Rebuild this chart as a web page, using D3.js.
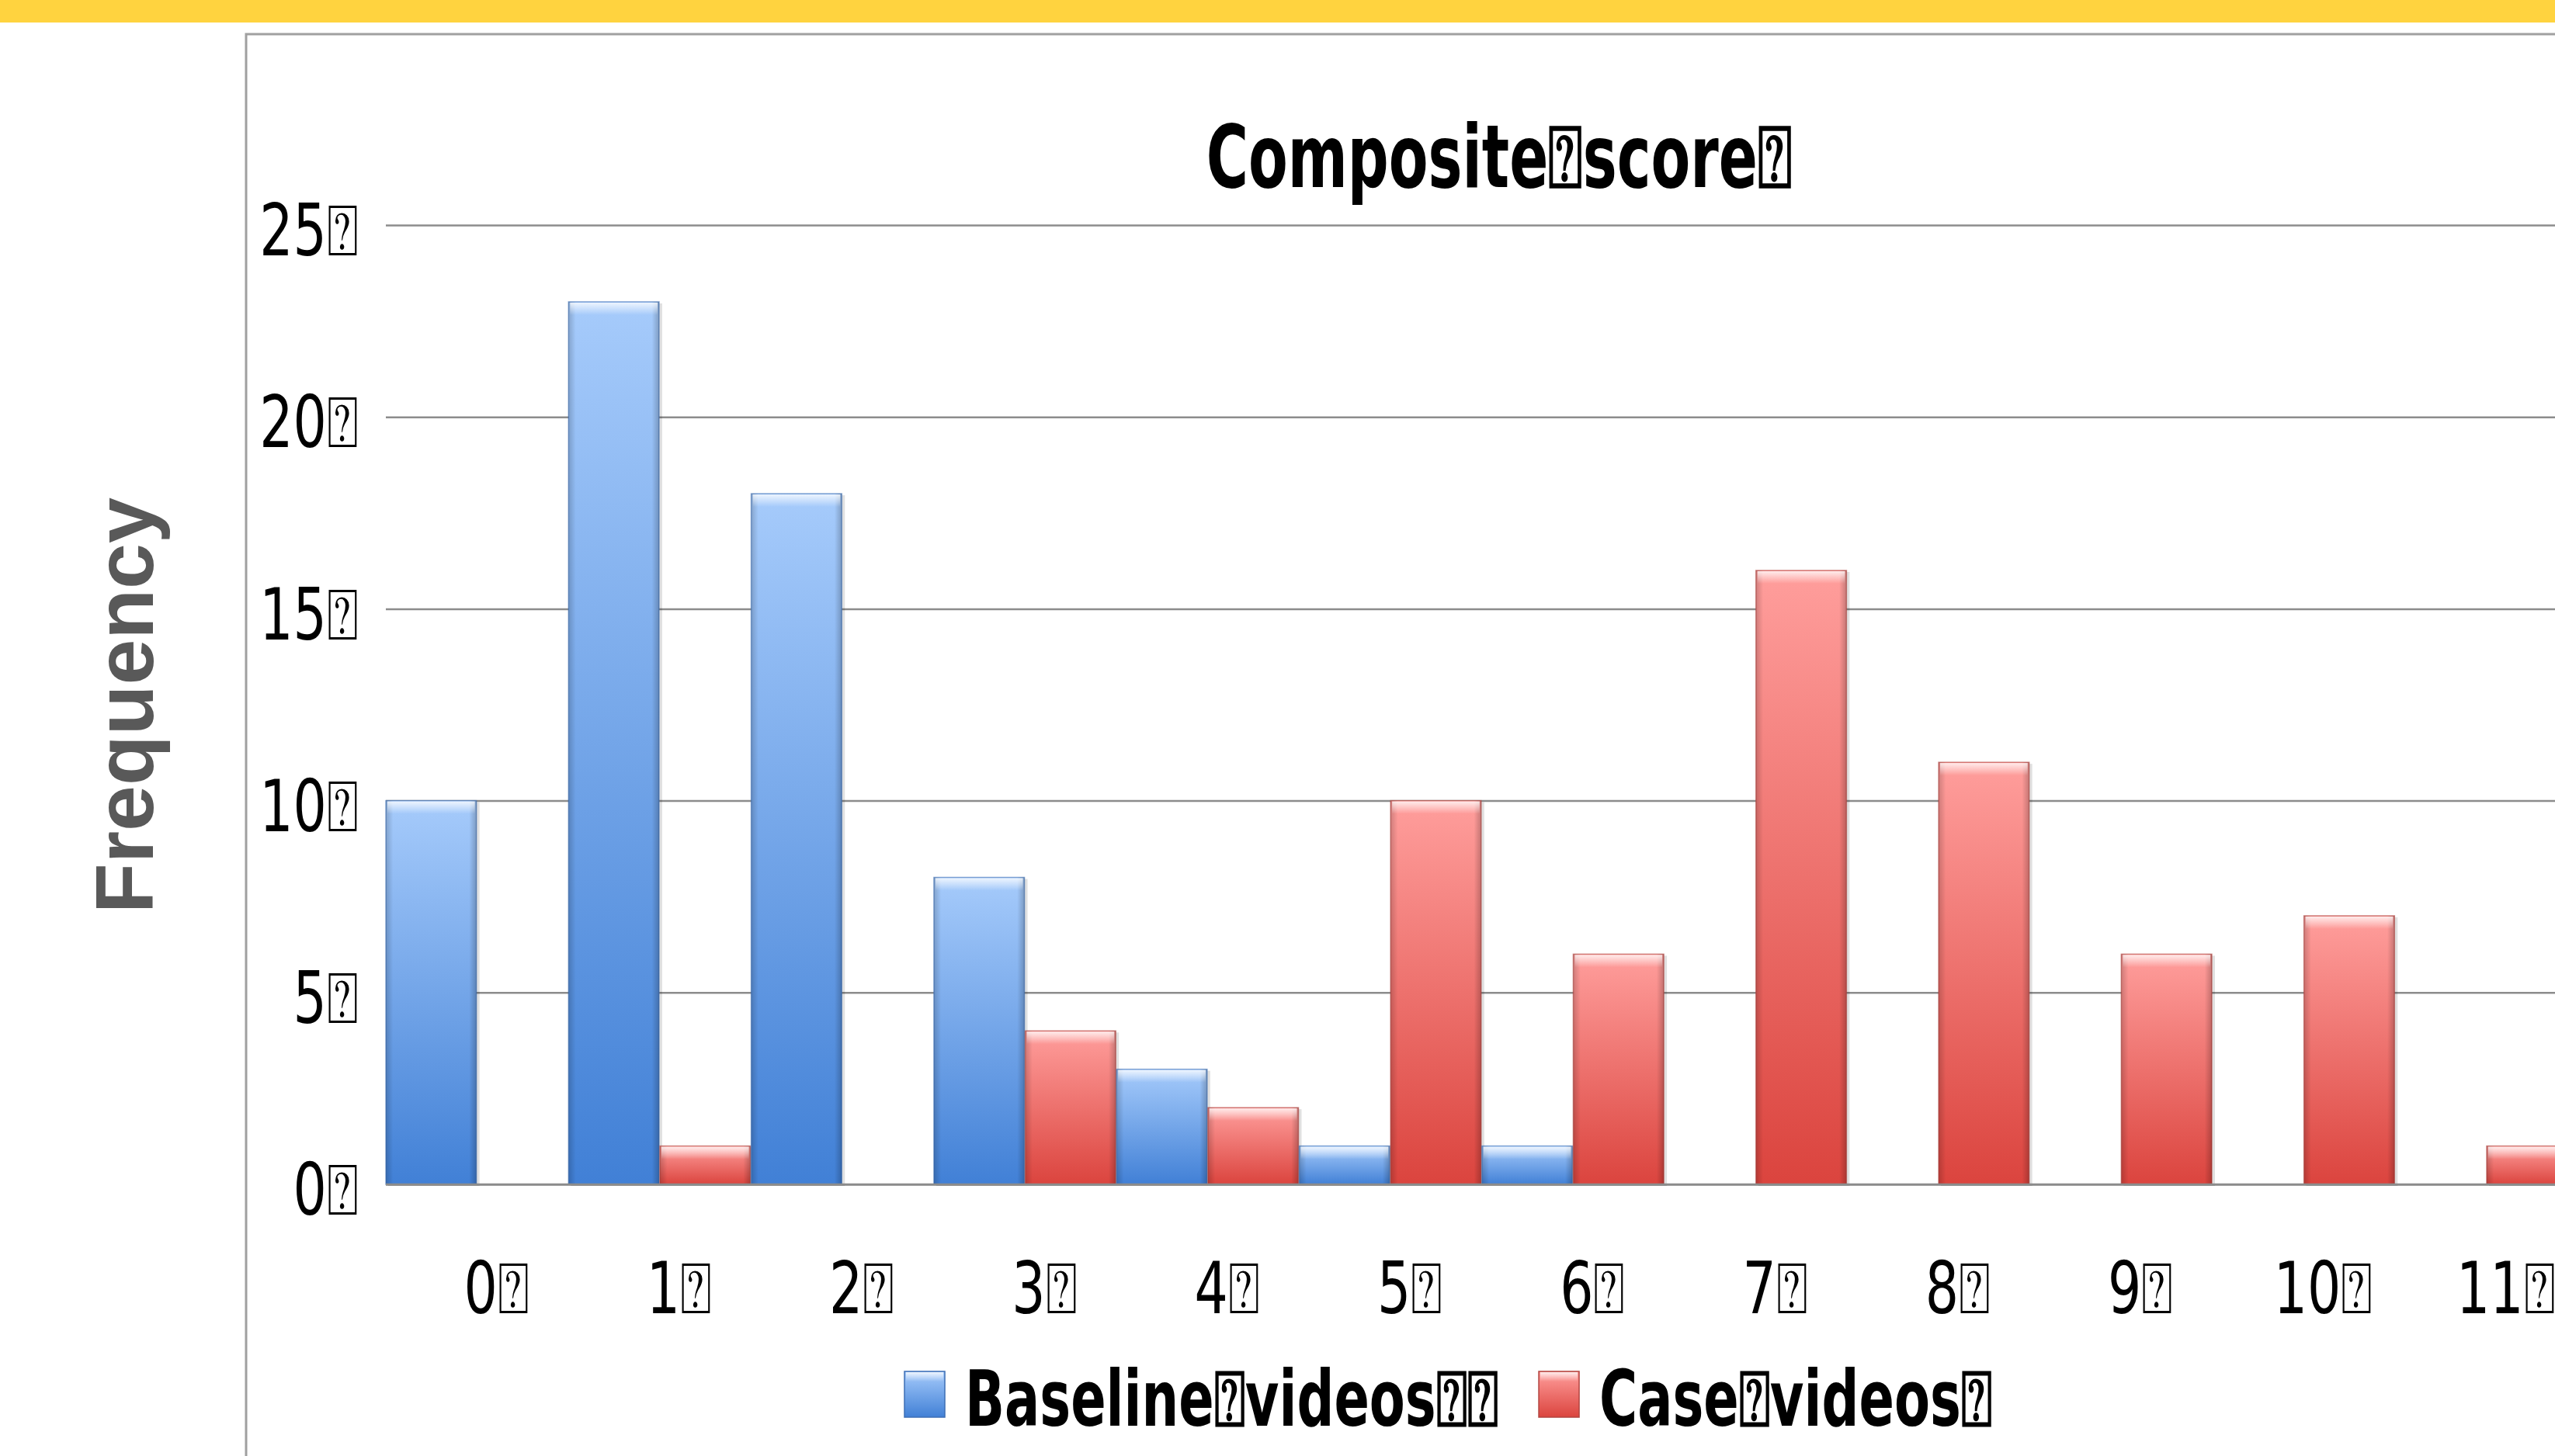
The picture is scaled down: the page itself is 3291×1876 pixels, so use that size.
<!DOCTYPE html>
<html>
<head>
<meta charset="utf-8">
<script src="https://cdn.jsdelivr.net/npm/d3@7"></script>
<style>
  html, body { margin: 0; padding: 0; background: #ffffff; }
  svg { display: block; }
</style>
</head>
<body>
<svg id="chart" width="3291" height="1876"></svg>
<script>
// ---- data ----
const categories = ["0", "1", "2", "3", "4", "5", "6", "7", "8", "9", "10", "11"];
const baselineVideos = [10, 23, 18, 8, 3, 1, 1, 0, 0, 0, 0, 0];
const caseVideos = [0, 1, 0, 4, 2, 10, 6, 16, 11, 6, 7, 1];
const seriesNames = ["Baseline videos", "Case videos"];
const yTicks = [0, 5, 10, 15, 20, 25];
const chartTitle = "Composite score";
const yAxisTitle = "Frequency";
const TOFU = "\u2370";

// ---- layout ----
const W = 3291, H = 1876;
const plot = { left: 497, top: 290, bottom: 1526, band: 235.3 };
plot.right = plot.left + plot.band * categories.length;

const svg = d3.select("#chart");
const defs = svg.append("defs");

function grad(id, top, bottom) {
  const g = defs.append("linearGradient").attr("id", id)
    .attr("x1", 0).attr("y1", 0).attr("x2", 0).attr("y2", 1);
  g.append("stop").attr("offset", "0%").attr("stop-color", top);
  g.append("stop").attr("offset", "100%").attr("stop-color", bottom);
}
grad("gBlue", "#A6CBFB", "#4180D6");
grad("gRed", "#FF9E9C", "#DB443E");
const hl = defs.append("linearGradient").attr("id", "gHl")
  .attr("x1", 0).attr("y1", 0).attr("x2", 0).attr("y2", 1);
hl.append("stop").attr("offset", "0%").attr("stop-color", "#ffffff").attr("stop-opacity", 0.8);
hl.append("stop").attr("offset", "100%").attr("stop-color", "#ffffff").attr("stop-opacity", 0);
const sgrad = defs.append("linearGradient").attr("id", "gSide")
  .attr("x1", 0).attr("y1", 0).attr("x2", 1).attr("y2", 0);
sgrad.append("stop").attr("offset", "0%").attr("stop-color", "#000").attr("stop-opacity", 0.18);
sgrad.append("stop").attr("offset", "8%").attr("stop-color", "#000").attr("stop-opacity", 0);
sgrad.append("stop").attr("offset", "92%").attr("stop-color", "#000").attr("stop-opacity", 0);
sgrad.append("stop").attr("offset", "100%").attr("stop-color", "#000").attr("stop-opacity", 0.22);

const seriesFill = ["url(#gBlue)", "url(#gRed)"];
const seriesStroke = ["#3E6FB5", "#B24540"];

// yellow top band
svg.append("rect").attr("x", 0).attr("y", 0).attr("width", W).attr("height", 29)
  .attr("fill", "#FFD33F");

// frame
svg.append("path")
  .attr("d", `M317,${H} L317,44 L${W},44`)
  .attr("fill", "none").attr("stroke", "#A0A0A0").attr("stroke-width", 3);

// ---- scales ----
const x0 = d3.scaleBand().domain(categories).range([plot.left, plot.right]).padding(0);
const x1 = d3.scaleBand().domain(seriesNames).range([0, x0.bandwidth()]).padding(0);
const y = d3.scaleLinear().domain([0, 25]).range([plot.bottom, plot.top]);

// ---- y axis with gridlines ----
const tickScale = 0.74;
const yAxis = svg.append("g")
  .attr("transform", `translate(${plot.left},0)`)
  .call(d3.axisLeft(y).tickValues(yTicks).tickSize(-(plot.right - plot.left))
    .tickPadding(0).tickFormat(d => d + TOFU));
yAxis.select(".domain").remove();
yAxis.selectAll(".tick line").attr("stroke", "#8C8C8C").attr("stroke-width", 2.5);
yAxis.selectAll(".tick text")
  .attr("font-family", "DejaVu Sans").attr("font-size", 92).attr("fill", "#000")
  .attr("text-anchor", "end")
  .attr("dy", "0.42em")
  .attr("x", -35 / tickScale)
  .attr("transform", `scale(${tickScale},1)`);

// ---- bars ----
const rows = categories.map((c, i) => ({ cat: c, values: [baselineVideos[i], caseVideos[i]] }));
const barGroups = svg.append("g").selectAll("g").data(rows).join("g")
  .attr("transform", d => `translate(${x0(d.cat)},0)`);
const bars = barGroups.selectAll("g.bar")
  .data(d => d.values.map((v, k) => ({ v, k, name: seriesNames[k] })).filter(b => b.v > 0))
  .join("g").attr("class", "bar");
bars.append("rect")
  .attr("x", d => x1(d.name) + 3).attr("y", d => y(d.v) + 2)
  .attr("width", x1.bandwidth()).attr("height", d => y(0) - y(d.v))
  .attr("fill", "#000").attr("opacity", 0.12);
bars.append("rect")
  .attr("x", d => x1(d.name)).attr("y", d => y(d.v))
  .attr("width", x1.bandwidth() - 1).attr("height", d => y(0) - y(d.v))
  .attr("fill", d => seriesFill[d.k])
  .attr("stroke", d => seriesStroke[d.k]).attr("stroke-width", 1.5).attr("stroke-opacity", 0.6);
bars.append("rect")
  .attr("x", d => x1(d.name)).attr("y", d => y(d.v))
  .attr("width", x1.bandwidth() - 1).attr("height", d => y(0) - y(d.v))
  .attr("fill", "url(#gSide)");
bars.append("rect")
  .attr("x", d => x1(d.name) + 2).attr("y", d => y(d.v) + 1)
  .attr("width", x1.bandwidth() - 5).attr("height", d => Math.min(16, y(0) - y(d.v)))
  .attr("fill", "url(#gHl)");

// baseline
svg.append("line").attr("x1", plot.left).attr("x2", plot.right)
  .attr("y1", y(0)).attr("y2", y(0)).attr("stroke", "#8C8C8C").attr("stroke-width", 2.5);

// ---- x labels ----
svg.append("g").selectAll("text").data(categories).join("text")
  .attr("transform", d => `translate(${x0(d) + x0.bandwidth() / 2 + 25},1692) scale(${tickScale},1)`)
  .attr("text-anchor", "middle")
  .attr("font-family", "DejaVu Sans").attr("font-size", 92).attr("fill", "#000")
  .text(d => d + TOFU);

// ---- title ----
svg.append("text")
  .attr("transform", `translate(1931,241) scale(0.66,1)`)
  .attr("text-anchor", "middle")
  .attr("font-family", "DejaVu Sans").attr("font-weight", "bold").attr("font-size", 112)
  .attr("fill", "#000")
  .text(chartTitle.replace(" ", TOFU) + TOFU);

// ---- y axis title ----
svg.append("text")
  .attr("transform", `translate(197,909) rotate(-90)`)
  .attr("text-anchor", "middle")
  .attr("font-family", "Liberation Sans, Arial, sans-serif").attr("font-weight", "bold")
  .attr("font-size", 106).attr("fill", "#595959")
  .text(yAxisTitle);

// ---- legend ----
const legScale = 0.67;
const legend = svg.append("g");
let lx = 1165;
seriesNames.forEach((name, k) => {
  legend.append("rect").attr("x", lx).attr("y", 1767).attr("width", 52).attr("height", 59)
    .attr("fill", seriesFill[k]).attr("stroke", seriesStroke[k]).attr("stroke-width", 1.5);
  legend.append("rect").attr("x", lx + 2).attr("y", 1768).attr("width", 48).attr("height", 12)
    .attr("fill", "url(#gHl)");
  const t = legend.append("text")
    .attr("transform", `translate(${lx + 78},1837) scale(${legScale},1)`)
    .attr("font-family", "DejaVu Sans").attr("font-weight", "bold").attr("font-size", 100)
    .attr("fill", "#000")
    .text(name.replace(" ", TOFU) + TOFU + (k === 0 ? TOFU : ""));
  const w = t.node().getComputedTextLength() * legScale;
  lx = lx + 78 + w + 52;
});
</script>
</body>
</html>
